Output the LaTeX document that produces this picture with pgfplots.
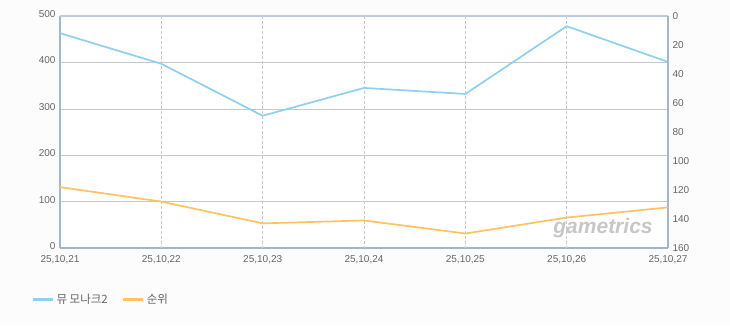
\documentclass[border=0pt]{standalone}
\usepackage{pgfplots}
\pgfplotsset{compat=1.18}
\usepackage{fontspec}
\setmainfont{Liberation Sans}
\newfontfamily\kr{Noto Sans CJK KR}
\definecolor{blueL}{HTML}{8FD0F0}
\definecolor{orangeL}{HTML}{FFC262}
\definecolor{axisC}{HTML}{A4B6CC}
\definecolor{topC}{HTML}{BCCBDD}
\definecolor{gridC}{HTML}{C8C8C8}
\definecolor{tickC}{HTML}{666666}
\definecolor{bgC}{HTML}{FCFCFC}
\begin{document}
\begin{tikzpicture}
\fill[bgC] (0,0) rectangle (730pt,-325pt);
\useasboundingbox (0,0) rectangle (730pt,-325pt);
\begin{axis}[
  at={(60pt,-248pt)}, anchor=south west,
  scale only axis, width=608pt, height=232pt,
  xmin=0, xmax=6, ymin=0, ymax=500,
  xtick={0,...,6},
  xticklabels={{25,10,21},{25,10,22},{25,10,23},{25,10,24},{25,10,25},{25,10,26},{25,10,27}},
  ytick={0,100,...,500},
  /pgf/number format/assume math mode=true,
  axis x line*=bottom, axis y line*=left,
  x axis line style={axisC, line width=1.6pt, -},
  y axis line style={axisC, line width=1.6pt, -},
  major tick length=0pt,
  ymajorgrids, grid style={gridC, line width=0.6pt},
  axis background/.style={fill=white},
  tick label style={font=\fontsize{10}{11}\selectfont, text=tickC},
  yticklabel style={xshift=-1pt, yshift=2pt},
  xticklabel style={yshift=-4pt},
  legend style={at={(-0.052,-0.224)}, anchor=west, draw=none, fill=none,
    legend columns=2, font=\kr\fontsize{11.5}{13}\selectfont, text=tickC,
    /tikz/every even column/.append style={column sep=12pt}},
  legend image code/.code={\draw[#1, line width=3pt] (0pt,0pt) -- (20pt,0pt);},
]
\addplot[blueL, line width=1.7pt] coordinates {(0,463) (1,397) (2,285) (3,345) (4,332) (5,478) (6,401)};
\addlegendentry{뮤 모나크2}
\addlegendimage{orangeL}
\addlegendentry{순위}
\end{axis}
\node[font=\bfseries\itshape\fontsize{21}{21}\selectfont, text=black!22] at (603pt,-228pt) {gametrics};
\begin{axis}[
  at={(60pt,-248pt)}, anchor=south west,
  scale only axis, width=608pt, height=232pt,
  xmin=0, xmax=6, ymin=0, ymax=160, y dir=reverse,
  xtick={1,...,5}, xticklabels={},
  ytick={0,20,...,160},
  /pgf/number format/assume math mode=true,
  axis x line*=top, axis y line*=right,
  x axis line style={topC, line width=1.2pt, -},
  y axis line style={axisC, line width=1.6pt, -},
  major tick length=0pt,
  xmajorgrids, grid style={gridC, line width=0.6pt, dash pattern=on 3pt off 2pt},
  tick label style={font=\fontsize{10}{11}\selectfont, text=tickC},
  yticklabel style={xshift=1pt},
]
\addplot[orangeL, line width=1.7pt] coordinates {(0,118) (1,128) (2,143) (3,141) (4,150) (5,139) (6,132)};
\end{axis}
\end{tikzpicture}
\end{document}
